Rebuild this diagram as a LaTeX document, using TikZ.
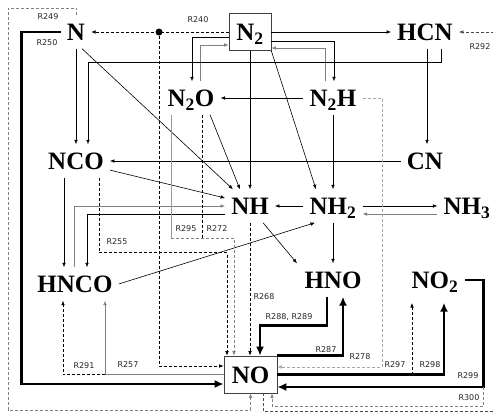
\documentclass[tikz,border=0pt]{standalone}
\usepackage{fontspec}
\usetikzlibrary{arrows.meta}
\newfontfamily\chemfam{Liberation Serif}
\newfontfamily\rxnfam{DejaVu Sans}
\newcommand{\chemstyle}{\chemfam\bfseries\fontsize{25pt}{25pt}\selectfont}
\newcommand{\rxnstyle}{\rxnfam\fontsize{8pt}{9pt}\selectfont}

\begin{document}
\begin{tikzpicture}[x=1pt, y=-1pt,
    chem/.style={font=\chemstyle, inner xsep=6pt, inner ysep=8pt,
        text height=17pt, text depth=0pt},
    chembox/.style={font=\chemstyle, draw=black!75, line width=0.7pt,
        minimum height=37pt, inner sep=0pt, text height=17pt, text depth=0pt},
    rxn/.style={font=\rxnstyle, inner sep=0pt, text=black!85},
    link/.style={line width=0.6pt},
    arrow/.style={link, -{Latex[length=4.5pt,width=3.6pt]}},
    dashlink/.style={link, dash pattern=on 3pt off 2pt},
    dasharrow/.style={arrow, dash pattern=on 3pt off 2pt},
    heavy/.style={line width=2.6pt, -{Latex[length=9pt,width=8pt]}}
  ]
  \useasboundingbox (0,0) rectangle (493,413);
  \clip (0,0) rectangle (493,413);

  \node[chem] (N) at (76,32) {N};
  \node[chembox, minimum width=42pt] (N2) at (250,32) {N\textsubscript{2}};
  \node[chem] (HCN) at (425,32) {HCN};
  \node[chem] (N2O) at (191,98) {N\textsubscript{2}O};
  \node[chem] (N2H) at (333,98) {N\textsubscript{2}H};
  \node[chem] (NCO) at (76,161) {NCO};
  \node[chem] (CN) at (425,161) {CN};
  \node[chem] (NH) at (250,206) {NH};
  \node[chem] (NH2) at (333,206) {NH\textsubscript{2}};
  \node[chem] (NH3) at (467,206) {NH\textsubscript{3}};
  \node[chem] (HNCO) at (75,284) {HNCO};
  \node[chem] (HNO) at (333,280) {HNO};
  \node[chem] (NO2) at (435,280) {NO\textsubscript{2}};
  \node[chembox, minimum width=53pt] (NO) at (250.5,374.5) {NO};
  \node[circle, fill, inner sep=0pt, minimum size=7pt] (dot) at (159,32) {};

  \draw[dasharrow] (N2.west) -- (N.east);
  \draw[dasharrow] (dot) |- ([shift={(0,-8.5)}]NO.west);
  \draw[arrow] (N2.east) -- (HCN.west);
  \draw[dasharrow, black!70] ([xshift=12.5pt]NO.south) -- ++(0,18)
    -| ([xshift=41pt]HCN.east) -- (HCN.east);

  \draw[arrow] (N2.west |- 0,37) -| (N2O.north -| 192,0);
  \draw[arrow, gray] ([xshift=9pt]N2O.north) |- (N2.west |- 0,45);
  \draw[arrow] (N2.east |- 0,41) -| (N2H.north -| 334,0);
  \draw[arrow, gray] ([xshift=-8pt]N2H.north) |- (N2.east |- 0,48);

  \draw[arrow] ([xshift=16pt]HCN.south) -- ++(0,13.5) -| ([xshift=12pt]NCO.north);
  \draw[arrow] ([xshift=2pt]HCN.south) -- ([xshift=2pt]CN.north);
  \draw[arrow] (N.south) -- (NCO.north);
  \draw[arrow] (CN.west) -- (NCO.east);

  \draw[arrow] ([xshift=6pt]N.south) -- ([xshift=-17pt]NH.north);
  \draw[arrow] ([xshift=19pt]N2O.south) -- ([xshift=-10pt]NH.north);
  \draw[arrow] (N2.south) -- (NH.north);
  \draw[arrow] (NCO.-15) -- ([shift={(0,-8)}]NH.west);
  \draw[arrow, gray] ([xshift=-1pt]HNCO.north) |- (NH.west);
  \draw[arrow] (NH.west |- 0,214) -| ([xshift=12pt]HNCO.north);
  \draw[arrow] ([xshift=-12pt]NCO.south) -- ([xshift=-11pt]HNCO.north);

  \draw[arrow] (N2.south east) -- ([xshift=-17pt]NH2.north);
  \draw[arrow] (N2H.west) -- (N2O.east);
  \draw[arrow] (N2H.south) -- (NH2.north);
  \draw[arrow] (NH2.west) -- (NH.east);
  \draw[arrow] (NH2.east) -- (NH3.west);
  \draw[arrow, gray] (NH3.west |- 0,214) -- (NH2.east |- 0,214);
  \draw[arrow] (NH2.south) -- (HNO.north);
  \draw[arrow] ([xshift=13pt]NH.south) -- ([xshift=-36pt]HNO.north);
  \draw[arrow] (HNCO.east) -- ([xshift=-18pt]NH2.south);

  \draw[dasharrow] ([xshift=23pt]NCO.south) -- ++(0,75) -| ([xshift=-23.5pt]NO.north);
  \draw[link, gray!80] ([xshift=-20pt]N2O.south) -- ++(0,123.5) coordinate (m295);
  \draw[dasharrow, gray] (m295) -| ([xshift=-16.5pt]NO.north);
  \draw[dashlink] ([xshift=11pt]N2O.south) -- ++(0,123.5);
  \draw[dasharrow] (NH.south) -- (NH.south |- NO.north);
  \draw[dasharrow, gray!70] (N2H.east) -| (382,367) -- (NO.east |- 0,367);

  \draw[heavy] ([xshift=-6pt]HNO.south) -- ++(0,28.5) -| ([xshift=9.5pt]NO.north);
  \draw[heavy] (NO.north east) -| ([xshift=10pt]HNO.south);
  \draw[heavy] (NO.east) -| ([shift={(9,6)}]NO2.south);
  \draw[heavy] (NO2.east) -- ++(19,0) |- coordinate (k299) ([shift={(0,12.5)}]NO.east);
  \draw[heavy] (N.west) -- ++(-39,0) |- ([shift={(0,9.5)}]NO.west);

  \draw[dasharrow, gray] (k299) -- ++(0,19) -| ([xshift=21.5pt]NO.south);
  \draw[dasharrow, gray] (N.north) -- ++(0,-7.5) -| (8,410) -| (NO.south);
  \draw[arrow, gray] (NO.west) -| coordinate (k257) ([xshift=30pt]HNCO.south);
  \draw[dasharrow] (k257) -| ([xshift=-12pt]HNCO.south);
  \coordinate (k297) at (412,374.5);
  \coordinate (e297) at (412,303);
  \draw[dasharrow] (k297) -- (e297);

  \node[rxn] (l249) at (48,17) {R249};
  \node[rxn] (l250) at (47,43) {R250};
  \node[rxn] (l240) at (198,20) {R240};
  \node[rxn] (l292) at (480,47) {R292};
  \node[rxn] (l255) at (117,242) {R255};
  \node[rxn] (l295) at (186,229) {R295};
  \node[rxn] (l272) at (217,229) {R272};
  \node[rxn] (l268) at (264,297) {R268};
  \node[rxn] (l288) at (289,317) {R288, R289};
  \node[rxn] (l287) at (326,350) {R287};
  \node[rxn] (l278) at (360,357) {R278};
  \node[rxn] (l297) at (395,365) {R297};
  \node[rxn] (l298) at (430,365) {R298};
  \node[rxn] (l299) at (468,376) {R299};
  \node[rxn] (l300) at (469,398) {R300};
  \node[rxn] (l291) at (84,366) {R291};
  \node[rxn] (l257) at (128,365) {R257};
\end{tikzpicture}
\end{document}
